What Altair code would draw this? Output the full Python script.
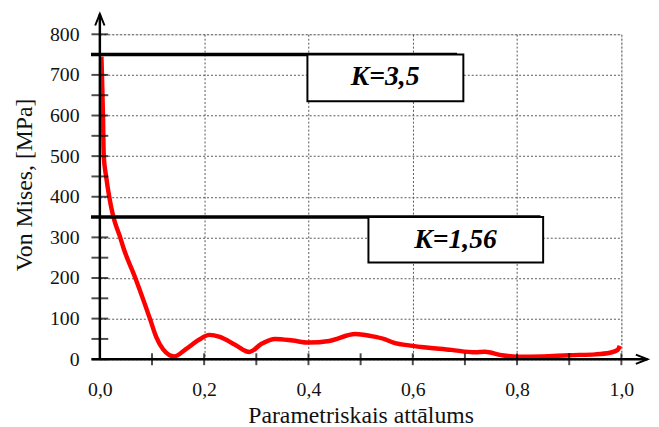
import altair as alt
import pandas as pd

# ---- data ----
curve_x = [0.003, 0.004, 0.006, 0.0075, 0.012, 0.018, 0.026, 0.039, 0.045, 0.068,
           0.096, 0.108, 0.121, 0.143, 0.165, 0.19, 0.21, 0.23, 0.26, 0.287,
           0.31, 0.336, 0.37, 0.40, 0.44, 0.49, 0.52, 0.547, 0.563, 0.60,
           0.674, 0.72, 0.738, 0.77, 0.80, 0.85, 0.90, 0.95, 0.978, 0.993, 0.997]
curve_y = [745, 700, 600, 500, 450, 400, 350, 300, 275, 200,
           100, 55, 25, 7, 25, 48, 60, 55, 35, 18,
           38, 50, 46, 41, 45, 62, 57, 49, 41, 33,
           23, 17, 18.5, 10, 6, 7, 10, 12, 16, 23, 33]

k_labels = ["K=3,5", "K=1,56"]
k_levels = [750, 350]
k_line_end = [0.685, 0.845]
k_box_x1 = [0.398, 0.515]
k_box_x2 = [0.697, 0.85]
k_box_y1 = [635, 238]
k_text_x = [0.547, 0.682]
k_text_y = [694, 294]

x_label_values = [0.0, 0.2, 0.4, 0.6, 0.8, 1.0]
y_label_values = [0, 100, 200, 300, 400, 500, 600, 700, 800]
x_minor_ticks = [0.1, 0.2, 0.3, 0.4, 0.5, 0.6, 0.7, 0.8, 0.9, 1.0]
y_minor_ticks = [0, 50, 100, 150, 200, 250, 300, 350, 400, 450, 500, 550, 600, 650, 700, 750, 800]

x_title = "Parametriskais attālums"
y_title = "Von Mises, [MPa]"

FONT = "Liberation Serif"

curve_df = pd.DataFrame({"x": curve_x, "y": curve_y})
k_df = pd.DataFrame({
    "label": k_labels, "y": k_levels, "x": [-0.017, -0.017], "x2": k_line_end,
    "bx1": k_box_x1, "bx2": k_box_x2, "by1": k_box_y1, "tx": k_text_x, "ty": k_text_y,
})
xt_df = pd.DataFrame({"x": x_minor_ticks, "y": [0] * len(x_minor_ticks)})
yt_df = pd.DataFrame({"y": y_minor_ticks, "x": [0] * len(y_minor_ticks)})
axes_df = pd.DataFrame({"x": [0.0, -0.016], "x2": [0.0, 1.05], "y": [-2, 0], "y2": [850, 0]})
arrow_df = pd.DataFrame({"x": [0.0, 1.039], "y": [836, 0], "shape": ["up", "right"]})

xscale = alt.Scale(domain=[0, 1], nice=False, zero=False)
yscale = alt.Scale(domain=[0, 800], nice=False, zero=False)

x_axis = alt.Axis(
    values=x_label_values, ticks=False, tickSize=0, domain=False, labelFlush=False,
    labelExpr="replace(format(datum.value, '.1f'), '.', ',')",
    labelFont=FONT, labelFontSize=20, labelColor="#111", labelPadding=21,
    grid=True, gridDash=[2, 2], gridColor="#555", gridWidth=1,
    title=x_title, titleFont=FONT, titleFontSize=24, titleFontWeight="normal",
    titleColor="#111", titlePadding=4,
)
y_axis = alt.Axis(
    values=y_label_values, ticks=False, tickSize=0, domain=False, labelFlush=False,
    labelFont=FONT, labelFontSize=20, labelColor="#111", labelPadding=21,
    grid=True, gridDash=[2, 2], gridColor="#555", gridWidth=1,
    title=y_title, titleFont=FONT, titleFontSize=24, titleFontWeight="normal",
    titleColor="#111", titlePadding=13, titleY=152,
)

X = lambda f: alt.X(f, scale=xscale, title=x_title)
Y = lambda f: alt.Y(f, scale=yscale, title=y_title)

base_curve = alt.Chart(curve_df).mark_line(
    color="#ff0000", strokeWidth=4.5, interpolate="monotone"
).encode(
    x=alt.X("x:Q", scale=xscale, axis=x_axis),
    y=alt.Y("y:Q", scale=yscale, axis=y_axis),
)

axis_lines = alt.Chart(axes_df).mark_rule(color="black", strokeWidth=2.5).encode(
    x=X("x:Q"), x2="x2:Q", y=Y("y:Q"), y2="y2:Q",
)

arrow_up = alt.Chart(arrow_df[arrow_df["shape"] == "up"]).mark_point(
    shape="M-0.8,1 L0,-1 L0.8,1", filled=False, stroke="black", strokeWidth=2, size=140, opacity=1
).encode(x=X("x:Q"), y=Y("y:Q"))

arrow_right = alt.Chart(arrow_df[arrow_df["shape"] == "right"]).mark_point(
    shape="M-1,-0.8 L1,0 L-1,0.8", filled=False, stroke="black", strokeWidth=2, size=140, opacity=1
).encode(x=X("x:Q"), y=Y("y:Q"))

y_ticks = alt.Chart(yt_df).mark_tick(
    orient="horizontal", color="black", size=17, thickness=2
).encode(x=X("x:Q"), y=Y("y:Q"))

x_ticks = alt.Chart(xt_df).mark_tick(
    orient="vertical", color="black", size=12, thickness=2
).encode(x=X("x:Q"), y=Y("y:Q"))

k_lines = alt.Chart(k_df).mark_rule(color="black", strokeWidth=3.5).encode(
    x=X("x:Q"), x2="x2:Q", y=Y("y:Q"),
)

k_boxes = alt.Chart(k_df).mark_rect(fill="white", stroke="black", strokeWidth=2).encode(
    x=X("bx1:Q"), x2="bx2:Q", y=Y("by1:Q"), y2="y:Q",
)

k_text = alt.Chart(k_df).mark_text(
    font=FONT, fontSize=28, fontStyle="italic", fontWeight="bold", color="black",
    align="center", baseline="middle"
).encode(
    x=X("tx:Q"), y=Y("ty:Q"), text="label:N",
)

chart = alt.layer(
    base_curve, axis_lines, y_ticks, x_ticks, arrow_up, arrow_right, k_lines, k_boxes, k_text
).properties(
    width=528, height=329,
    autosize=alt.AutoSizeParams(type="none"),
    padding={"left": 93, "top": 24, "right": 30, "bottom": 66},
).configure_view(stroke=None).configure(background="white")

chart.save("out.html", embed_options={"renderer": "svg", "actions": False})
